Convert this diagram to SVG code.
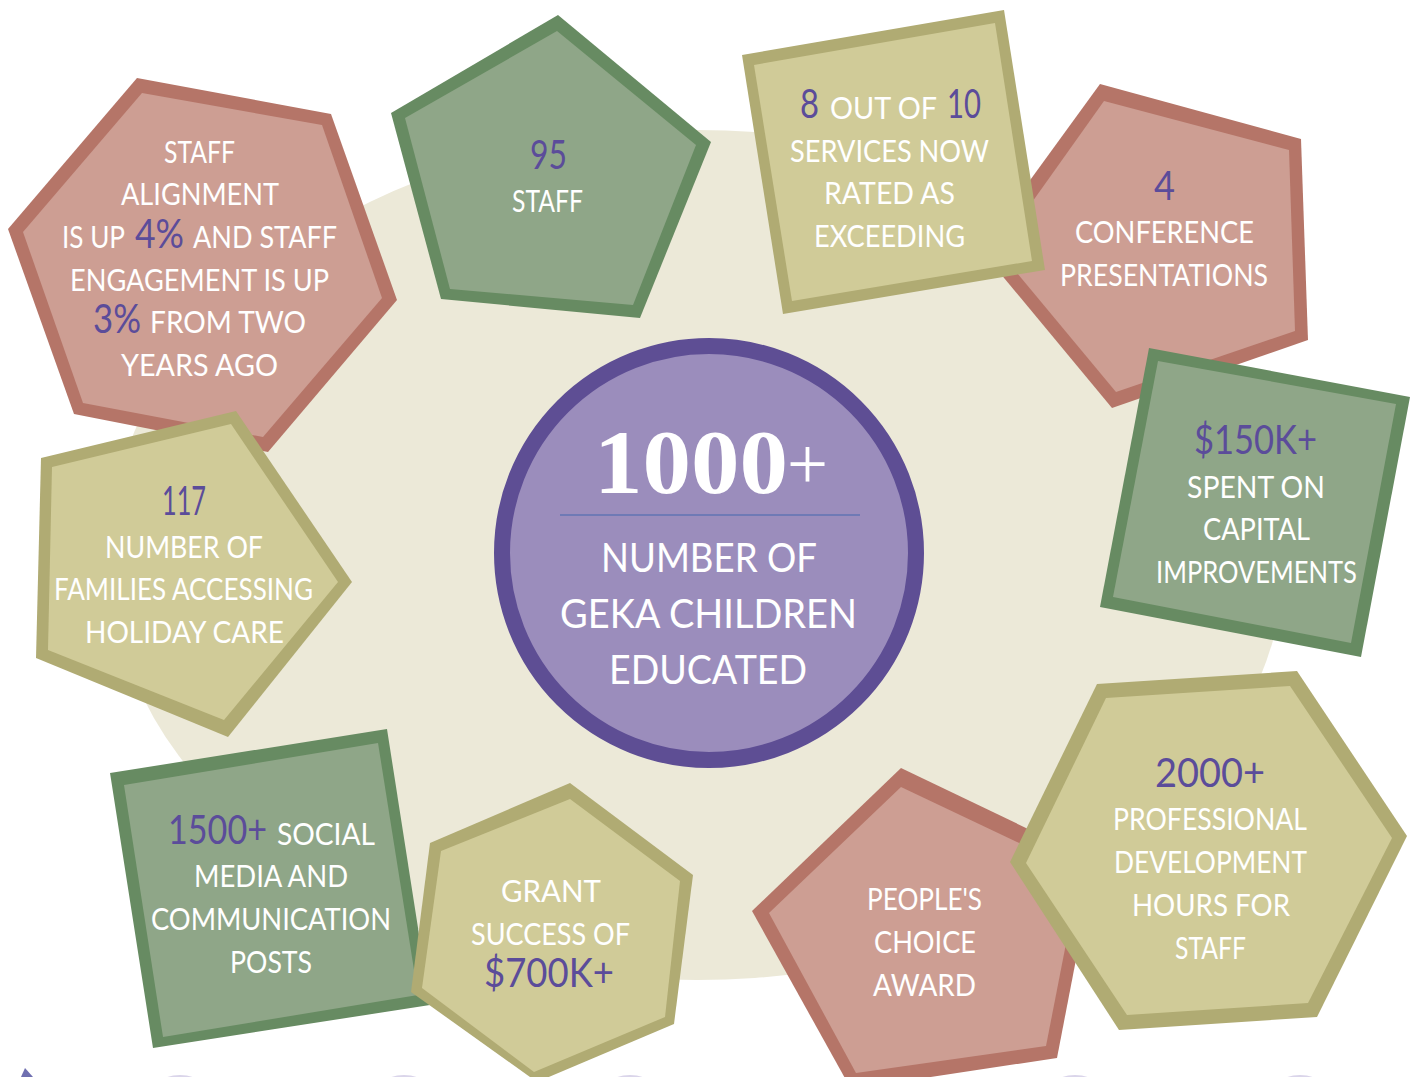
<svg xmlns="http://www.w3.org/2000/svg" width="1414" height="1077" viewBox="0 0 1414 1077">
<style>
text{font-family:"Lato","Liberation Sans",sans-serif;font-size:31px;fill:#fff;font-weight:400}
.n{fill:#5B4C9A;font-size:40px;font-weight:400}
.c{font-size:40px}
.pe{fill:#B57568}.pi{fill:#CD9E93}
.ge{fill:#678B62}.gi{fill:#8FA688}
.oe{fill:#B0AB73}.oi{fill:#D0CB98}
</style>
<rect width="1414" height="1077" fill="#fff"/>
<ellipse id="backdrop" cx="697" cy="555" rx="588" ry="425" fill="#ECE9D8"/>
<path d="M25 1068L33 1077H21Z" fill="#6F6FB0"/>
<g fill="#DAD5EA"><ellipse cx="180" cy="1082" rx="18" ry="7"/><ellipse cx="404" cy="1082" rx="18" ry="7"/><ellipse cx="630" cy="1082" rx="18" ry="7"/><ellipse cx="1075" cy="1082" rx="18" ry="7"/><ellipse cx="1300" cy="1082" rx="18" ry="7"/></g>

<g id="staff-alignment">
<polygon class="pe" points="137,78 331,114 397,300 268,452 74,414 8,229"/>
<polygon class="pi" points="142,93 322,125 382,298 263,437 83,403 23,232"/>
<text x="164" y="163" textLength="71" lengthAdjust="spacingAndGlyphs">STAFF</text>
<text x="121" y="205" textLength="158" lengthAdjust="spacingAndGlyphs">ALIGNMENT</text>
<text x="62" y="248" textLength="63" lengthAdjust="spacingAndGlyphs">IS UP</text>
<text class="n" x="135" y="248" textLength="49" lengthAdjust="spacingAndGlyphs">4%</text>
<text x="193" y="248" textLength="144" lengthAdjust="spacingAndGlyphs">AND STAFF</text>
<text x="70" y="291" textLength="259" lengthAdjust="spacingAndGlyphs">ENGAGEMENT IS UP</text>
<text class="n" x="93" y="333" textLength="48" lengthAdjust="spacingAndGlyphs">3%</text>
<text x="150" y="333" textLength="156" lengthAdjust="spacingAndGlyphs">FROM TWO</text>
<text x="121" y="376" textLength="157" lengthAdjust="spacingAndGlyphs">YEARS AGO</text>
</g>

<g id="staff-count">
<polygon class="ge" points="558,15 711,142 640,318 441,299 391,113"/>
<polygon class="gi" points="557,31 696,145 633,305 450,289 405,118"/>
<text class="n" x="530" y="169" textLength="37" lengthAdjust="spacingAndGlyphs">95</text>
<text x="512" y="212" textLength="71" lengthAdjust="spacingAndGlyphs">STAFF</text>
</g>

<g id="conference">
<polygon class="pe" points="1100,84 1301,139 1308,340 1112,408 980,249"/>
<polygon class="pi" points="1104,101 1289,150 1295,331 1116,392 998,250"/>
<text class="n" x="1154" y="200" textLength="21" lengthAdjust="spacingAndGlyphs">4</text>
<text x="1075" y="243" textLength="179" lengthAdjust="spacingAndGlyphs">CONFERENCE</text>
<text x="1060" y="286" textLength="208" lengthAdjust="spacingAndGlyphs">PRESENTATIONS</text>
</g>

<g id="services">
<polygon class="oe" points="742,55 1004,10 1045,270 783,314"/>
<polygon class="oi" points="754,65 995,23 1032,261 792,301"/>
<text class="n" x="800" y="118" textLength="19" lengthAdjust="spacingAndGlyphs">8</text>
<text x="830" y="119" textLength="107" lengthAdjust="spacingAndGlyphs">OUT OF</text>
<text class="n" x="947" y="118" textLength="34" lengthAdjust="spacingAndGlyphs">10</text>
<text x="790" y="162" textLength="199" lengthAdjust="spacingAndGlyphs">SERVICES NOW</text>
<text x="824" y="204" textLength="131" lengthAdjust="spacingAndGlyphs">RATED AS</text>
<text x="814" y="247" textLength="151" lengthAdjust="spacingAndGlyphs">EXCEEDING</text>
</g>

<g id="capital">
<polygon class="ge" points="1149,348 1410,397 1361,657 1100,607"/>
<polygon class="gi" points="1158,361 1396,404 1351,643 1113,597"/>
<text class="n" x="1194" y="454" textLength="123" lengthAdjust="spacingAndGlyphs">$150K+</text>
<text x="1187" y="498" textLength="138" lengthAdjust="spacingAndGlyphs">SPENT ON</text>
<text x="1203" y="540" textLength="107" lengthAdjust="spacingAndGlyphs">CAPITAL</text>
<text x="1156" y="583" textLength="201" lengthAdjust="spacingAndGlyphs">IMPROVEMENTS</text>
</g>

<g id="award">
<polygon class="pe" points="901,768 1095,861 1057,1058 851,1089 752,911"/>
<polygon class="pi" points="901,787 1080,872 1046,1046 856,1073 769,913"/>
<text x="867" y="910" textLength="115" lengthAdjust="spacingAndGlyphs">PEOPLE'S</text>
<text x="874" y="953" textLength="102" lengthAdjust="spacingAndGlyphs">CHOICE</text>
<text x="873" y="996" textLength="103" lengthAdjust="spacingAndGlyphs">AWARD</text>
</g>

<g id="development">
<polygon class="oe" points="1097,684 1297,671 1407,836 1317,1017 1119,1030 1010,862"/>
<polygon class="oi" points="1106,698 1290,686 1392,838 1308,1003 1127,1015 1026,863"/>
<text class="n" x="1155" y="787" textLength="110" lengthAdjust="spacingAndGlyphs">2000+</text>
<text x="1113" y="830" textLength="194" lengthAdjust="spacingAndGlyphs">PROFESSIONAL</text>
<text x="1114" y="873" textLength="193" lengthAdjust="spacingAndGlyphs">DEVELOPMENT</text>
<text x="1132" y="916" textLength="158" lengthAdjust="spacingAndGlyphs">HOURS FOR</text>
<text x="1175" y="959" textLength="71" lengthAdjust="spacingAndGlyphs">STAFF</text>
</g>

<g id="social">
<polygon class="ge" points="110,773 387,729 430,1005 153,1048"/>
<polygon class="gi" points="124,785 378,743 418,995 163,1037"/>
<text class="n" x="168" y="844" textLength="99" lengthAdjust="spacingAndGlyphs">1500+</text>
<text x="277" y="845" textLength="98" lengthAdjust="spacingAndGlyphs">SOCIAL</text>
<text x="194" y="887" textLength="154" lengthAdjust="spacingAndGlyphs">MEDIA AND</text>
<text x="151" y="930" textLength="240" lengthAdjust="spacingAndGlyphs">COMMUNICATION</text>
<text x="230" y="973" textLength="82" lengthAdjust="spacingAndGlyphs">POSTS</text>
</g>

<g id="grant">
<polygon class="oe" points="570,783 693,875 674,1024 537,1082 411,992 430,843"/>
<polygon class="oi" points="570,799 680,881 665,1017 534,1072 422,988 441,851"/>
<text x="501" y="902" textLength="100" lengthAdjust="spacingAndGlyphs">GRANT</text>
<text x="471" y="945" textLength="159" lengthAdjust="spacingAndGlyphs">SUCCESS OF</text>
<text class="n" x="484" y="987" textLength="130" lengthAdjust="spacingAndGlyphs">$700K+</text>
</g>

<g id="holiday-care">
<polygon class="oe" points="41,458 236,411 352,582 228,737 36,658"/>
<polygon class="oi" points="52,467 231,424 338,582 224,720 48,650"/>
<text class="n" x="162" y="515" textLength="44" lengthAdjust="spacingAndGlyphs">117</text>
<text x="105" y="558" textLength="158" lengthAdjust="spacingAndGlyphs">NUMBER OF</text>
<text x="54" y="600" textLength="259" lengthAdjust="spacingAndGlyphs">FAMILIES ACCESSING</text>
<text x="85" y="643" textLength="199" lengthAdjust="spacingAndGlyphs">HOLIDAY CARE</text>
</g>

<g id="centre">
<circle cx="709" cy="553" r="207" fill="#9B8DBC" stroke="#5E4E94" stroke-width="16"/>
<text x="594" y="493" textLength="194" lengthAdjust="spacingAndGlyphs" style="font-family:'Liberation Serif',serif;font-weight:700;font-size:92px">1000</text>
<text x="787" y="489" textLength="41" lengthAdjust="spacingAndGlyphs" style="font-family:'Liberation Serif',serif;font-weight:400;font-size:74px">+</text>
<line x1="560" y1="515" x2="860" y2="515" stroke="#6F7AB5" stroke-width="2"/>
<text class="c" x="601" y="572" textLength="216" lengthAdjust="spacingAndGlyphs">NUMBER OF</text>
<text class="c" x="560" y="628" textLength="297" lengthAdjust="spacingAndGlyphs">GEKA CHILDREN</text>
<text class="c" x="609" y="684" textLength="198" lengthAdjust="spacingAndGlyphs">EDUCATED</text>
</g>
</svg>
